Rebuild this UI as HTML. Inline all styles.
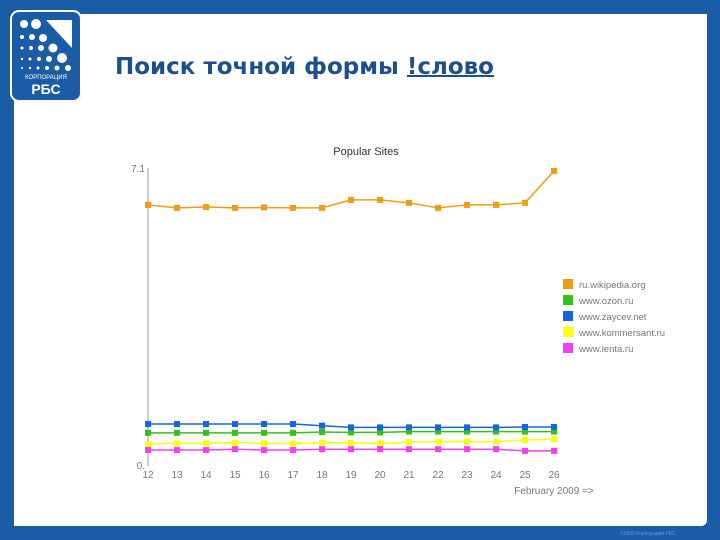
<!DOCTYPE html>
<html><head><meta charset="utf-8"><style>
body{margin:0;width:720px;height:540px;background:#1a5ca6;position:relative;overflow:hidden;font-family:"Liberation Sans","DejaVu Sans",sans-serif}
#panel{position:absolute;left:14px;top:14px;width:693px;height:512px;background:#fff;border-radius:0 0 6px 0}
#logo{position:absolute;left:10px;top:10px;width:72px;height:92px;background:#1a5ca6;border-radius:9px;box-shadow:0 0 0 2px #fff inset}
#title{position:absolute;left:115px;top:54px;font-size:23px;font-weight:bold;color:#1b4f8e;font-family:"DejaVu Sans","Liberation Sans",sans-serif;letter-spacing:0px}
#title u{text-decoration-thickness:2px}
#copy{position:absolute;left:620px;top:531px;font-size:5px;color:#6d9bd6}
</style></head><body>
<div id="panel"></div>
<div id="logo">
<svg width="72" height="92">
<g fill="#fff"><circle cx="14" cy="14" r="4"/><circle cx="26" cy="14" r="5"/><polygon points="36,10 62,10 62,38"/>
<circle cx="12" cy="27" r="2"/><circle cx="22" cy="27" r="3"/><circle cx="33" cy="28" r="4"/>
<circle cx="12" cy="38" r="1.5"/><circle cx="21" cy="38" r="2"/><circle cx="31" cy="38" r="3"/><circle cx="43" cy="38" r="4.5"/>
<circle cx="12" cy="49" r="1.2"/><circle cx="20" cy="49" r="1.5"/><circle cx="29" cy="49" r="2"/><circle cx="39" cy="49" r="3"/><circle cx="52" cy="48" r="5"/>
<circle cx="12" cy="58" r="1"/><circle cx="20" cy="58" r="1.2"/><circle cx="28" cy="58" r="1.5"/><circle cx="37" cy="58" r="2"/><circle cx="47" cy="58" r="2.5"/><circle cx="58" cy="58" r="3"/>
<text x="36" y="69" font-size="6" text-anchor="middle" font-family="Liberation Sans,sans-serif">КОРПОРАЦИЯ</text>
<text x="36" y="84" font-size="14" font-weight="bold" text-anchor="middle" font-family="Liberation Sans,sans-serif">РБС</text></g></svg></div>
<div id="title">Поиск точной формы <u>!слово</u></div>
<svg id="chart" width="720" height="540" style="position:absolute;left:0;top:0"></svg>
<div id="copy">©2009 Корпорация РБС</div>
<script>
const categories=["12","13","14","15","16","17","18","19","20","21","22","23","24","25","26"];
const seriesNames=["ru.wikipedia.org","www.ozon.ru","www.zaycev.net","www.kommersant.ru","www.lenta.ru"];
const wiki=[6.22,6.15,6.17,6.15,6.16,6.15,6.15,6.34,6.34,6.27,6.15,6.22,6.22,6.27,7.03];
const ozon=[0.79,0.79,0.79,0.79,0.79,0.79,0.81,0.8,0.8,0.82,0.82,0.82,0.82,0.82,0.82];
const zaycev=[1.0,1.0,1.0,1.0,1.0,1.0,0.96,0.92,0.92,0.92,0.92,0.92,0.92,0.93,0.93];
const kommersant=[0.52,0.54,0.54,0.56,0.54,0.54,0.56,0.55,0.54,0.57,0.58,0.58,0.58,0.62,0.64];
const lenta=[0.38,0.38,0.38,0.4,0.38,0.38,0.4,0.4,0.4,0.4,0.4,0.4,0.4,0.36,0.36];
const colors=["#f39c12","#33c21a","#1466e0","#ffff00","#f23ff0"];
const yMax=7.1;
const svg=document.getElementById('chart');const NS="http://www.w3.org/2000/svg";
const x=i=>148+i*29, y=v=>466-v/yMax*298;
function mk(t,a){const e=document.createElementNS(NS,t);for(const k in a)e.setAttribute(k,a[k]);svg.appendChild(e);return e;}
let e;
e=mk('line',{x1:148,y1:168,x2:148,y2:466,stroke:'#999'});


e=mk('text',{x:366,y:155,'font-size':11,fill:'#333','text-anchor':'middle'});e.textContent='Popular Sites';


e=mk('text',{x:145,y:172,'font-size':10,fill:'#777','text-anchor':'end'});e.textContent='7.1';


e=mk('text',{x:145,y:469,'font-size':10,fill:'#777','text-anchor':'end'});e.textContent='0.';


categories.forEach((c,i)=>{e=mk('text',{x:x(i),y:478,'font-size':10,fill:'#777','text-anchor':'middle'});e.textContent=c;

});
e=mk('text',{x:554,y:494,'font-size':10,fill:'#777','text-anchor':'middle'});e.textContent='February 2009 =>';


const data=[wiki,ozon,zaycev,kommersant,lenta];
[kommersant,lenta,ozon,zaycev,wiki].forEach(s=>{const k=data.indexOf(s);
e=mk('polyline',{points:s.map((v,i)=>x(i)+','+y(v)).join(' '),fill:'none',stroke:colors[k],'stroke-width':1.5});


s.forEach((v,i)=>{e=mk('rect',{x:x(i)-3,y:y(v)-3,width:6,height:6,fill:colors[k]});

});});
seriesNames.forEach((n,k)=>{const ly=279+k*16;
e=mk('rect',{x:563,y:ly,width:10,height:10,fill:colors[k]});


e=mk('text',{x:579,y:ly+9,'font-size':9.5,fill:'#777'});e.textContent=n;

});
</script>
</body></html>
